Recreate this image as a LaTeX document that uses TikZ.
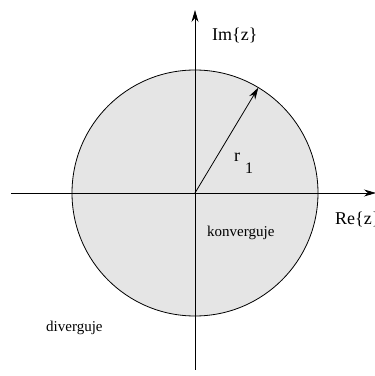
\documentclass[tikz,border=0pt]{standalone}
\usepackage{fontspec}
\setmainfont{Liberation Serif}
\usetikzlibrary{arrows.meta,calc}
\begin{document}
\begin{tikzpicture}[x=1pt,y=1pt,
  axis/.style={line width=0.8pt,-{Stealth[length=12pt,width=7pt]}},
  lbl/.style={inner sep=0pt,font=\fontsize{18}{20}\selectfont},
  small/.style={inner sep=0pt,font=\fontsize{15}{17}\selectfont}]
\useasboundingbox (0,0) rectangle (375,376);
\coordinate (O) at (195,183);
\fill[gray!20] (O) circle (123);
\draw[line width=0.8pt] (O) circle (123);
\coordinate (xl) at (11,183);
\coordinate (xr) at (376,183);
\coordinate (yb) at (195,6);
\coordinate (yt) at (195,366);
\draw[axis] (xl) -- (xr);
\draw[axis] (yb) -- (yt);
\coordinate (R) at ($(O)+(59:123)$);
\draw[axis] (O) -- (R);
\node[lbl,anchor=west] (im) at (212,341) {Im\{z\}};
\node[lbl,anchor=west] (re) at (335,157) {Re\{z\}};
\node[lbl] (r) at (237,219) {r};
\node[font=\fontsize{16}{18}\selectfont,inner sep=0pt] (one) at (249,208) {1};
\node[small,anchor=west] (konv) at (207,143) {konverguje};
\node[small,anchor=west] (div) at (46,48) {diverguje};
\end{tikzpicture}
\end{document}
